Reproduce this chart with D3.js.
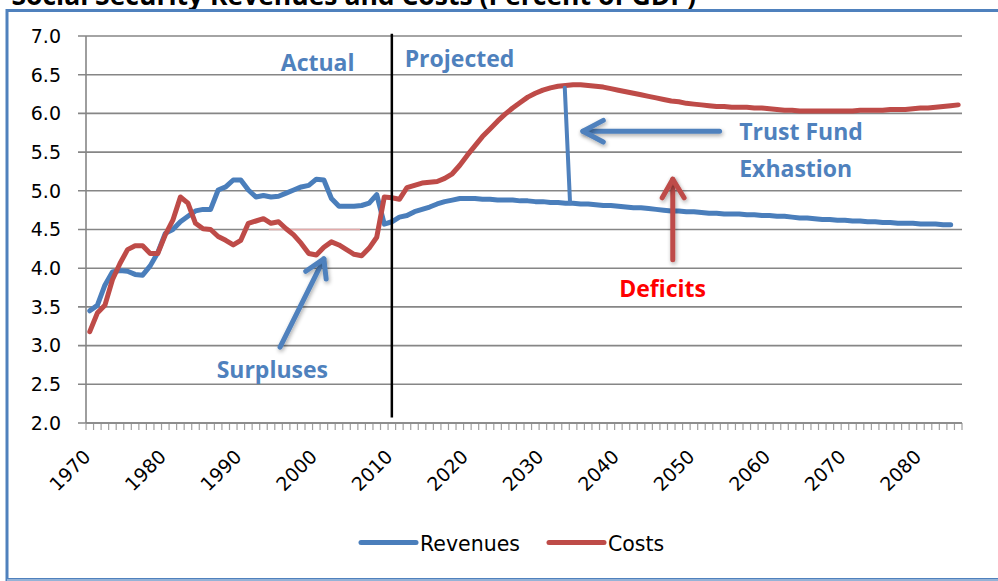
<!DOCTYPE html>
<html>
<head>
<meta charset="utf-8">
<script src="https://cdnjs.cloudflare.com/ajax/libs/d3/7.8.5/d3.min.js"></script>
<style>
  body { margin: 0; background: #fff; }
  svg { display: block; }
</style>
</head>
<body>
<div id="my_dataviz"></div>
<script>

// categories: one per year 1970 - 2085
var years = d3.range(1970, 2086);
var tickYears = [1970, 1980, 1990, 2000, 2010, 2020, 2030, 2040, 2050, 2060, 2070, 2080];
var yTicks = [2.0, 2.5, 3.0, 3.5, 4.0, 4.5, 5.0, 5.5, 6.0, 6.5, 7.0];

// Revenues, percent of GDP (1970 - 2084)
var revenues = [
  3.45, 3.52, 3.78, 3.95, 3.97, 3.96, 3.92, 3.91, 4.03, 4.20,
  4.45, 4.50, 4.60, 4.67, 4.74, 4.76, 4.76, 5.01, 5.05, 5.14,
  5.14, 5.01, 4.92, 4.94, 4.92, 4.93, 4.97, 5.01, 5.05, 5.07,
  5.15, 5.14, 4.90, 4.80, 4.80, 4.80, 4.81, 4.84, 4.95, 4.57,
  4.60, 4.66, 4.68, 4.73, 4.76, 4.79, 4.83, 4.86, 4.88, 4.90,
  4.90, 4.90, 4.89, 4.89, 4.88, 4.88, 4.88, 4.87, 4.87, 4.86,
  4.86, 4.85, 4.85, 4.84, 4.84, 4.83, 4.83, 4.82, 4.81, 4.81,
  4.80, 4.79, 4.78, 4.78, 4.77, 4.76, 4.75, 4.74, 4.74, 4.73,
  4.73, 4.72, 4.71, 4.71, 4.70, 4.70, 4.70, 4.69, 4.69, 4.68,
  4.68, 4.67, 4.67, 4.66, 4.65, 4.65, 4.64, 4.63, 4.63, 4.62,
  4.62, 4.61, 4.61, 4.60, 4.60, 4.59, 4.59, 4.58, 4.58, 4.58,
  4.57, 4.57, 4.57, 4.56, 4.56
];

// Costs, percent of GDP (1970 - 2085)
var costs = [
  3.18, 3.42, 3.52, 3.85, 4.06, 4.24, 4.29, 4.29, 4.19, 4.19,
  4.43, 4.62, 4.92, 4.84, 4.58, 4.51, 4.50, 4.41, 4.36, 4.30,
  4.36, 4.58, 4.61, 4.64, 4.58, 4.60, 4.51, 4.43, 4.32, 4.19,
  4.17, 4.27, 4.34, 4.30, 4.24, 4.18, 4.16, 4.26, 4.40, 4.92,
  4.91, 4.89, 5.04, 5.07, 5.10, 5.11, 5.12, 5.16, 5.22, 5.33,
  5.46, 5.58, 5.70, 5.80, 5.90, 5.99, 6.07, 6.14, 6.21, 6.26,
  6.30, 6.33, 6.35, 6.36, 6.37, 6.37, 6.36, 6.35, 6.34, 6.32,
  6.30, 6.28, 6.26, 6.24, 6.22, 6.20, 6.18, 6.16, 6.15, 6.13,
  6.12, 6.11, 6.10, 6.09, 6.09, 6.08, 6.08, 6.08, 6.07, 6.07,
  6.06, 6.05, 6.04, 6.04, 6.03, 6.03, 6.03, 6.03, 6.03, 6.03,
  6.03, 6.03, 6.04, 6.04, 6.04, 6.04, 6.05, 6.05, 6.05, 6.06,
  6.07, 6.07, 6.08, 6.09, 6.10, 6.11
];

var seriesNames = ["Revenues", "Costs"];
var blue = "#4a7ebb", red = "#be4b48", annBlue = "#4f81bd";

// overall size and plot box
var W = 998, H = 581;
var plot = {left: 86, right: 962, top: 36, bottom: 423};

var svg = d3.select("#my_dataviz")
  .append("svg")
    .attr("width", W)
    .attr("height", H);

// soft shadow for the drawn arrows (user space so straight lines keep it)
var defs = svg.append("defs");
var f = defs.append("filter").attr("id", "shadow")
  .attr("filterUnits", "userSpaceOnUse")
  .attr("x", 0).attr("y", 0).attr("width", W).attr("height", H);
f.append("feGaussianBlur").attr("in", "SourceAlpha").attr("stdDeviation", 2);
f.append("feOffset").attr("dx", 1).attr("dy", 2).attr("result", "off");
f.append("feComponentTransfer").attr("result", "blur")
  .append("feFuncA").attr("type", "linear").attr("slope", 0.35);
var fm = f.append("feMerge");
fm.append("feMergeNode").attr("in", "blur");
fm.append("feMergeNode").attr("in", "SourceGraphic");

// title, mostly cut off by the top of the picture
svg.append("text")
  .attr("x", -4)
  .attr("y", 5)
  .style("font-family", "Open Sans")
  .style("font-weight", "bold")
  .style("font-size", "26.5px")
  .text("- Social Security Revenues and Costs (Percent of GDP)");

// frame round the chart
svg.append("rect")
  .attr("x", 7).attr("y", 10.5)
  .attr("width", W + 10).attr("height", 569)
  .attr("fill", "none")
  .attr("stroke", "#4f81bd")
  .attr("stroke-width", 3);
svg.append("line")
  .attr("x1", 7).attr("x2", W).attr("y1", 580).attr("y2", 580)
  .attr("stroke", "#95b3d7").attr("stroke-width", 2);

// scales
var x = d3.scalePoint()
  .domain(years)
  .range([plot.left, plot.right])
  .padding(0.5);
var step = x.step();
// continuous year scale for the annotations
var xc = d3.scaleLinear()
  .domain([1970, 2085])
  .range([x(1970), x(2085)]);
var y = d3.scaleLinear()
  .domain([2, 7])
  .range([plot.bottom, plot.top]);

// horizontal gridlines with small outside ticks
svg.append("g")
  .selectAll("line")
  .data(yTicks)
  .enter()
  .append("line")
    .attr("x1", plot.left - 8)
    .attr("x2", plot.right)
    .attr("y1", d => y(d))
    .attr("y2", d => y(d))
    .attr("stroke", "#868686")
    .attr("stroke-width", 1.6);

// y axis line
svg.append("line")
  .attr("x1", plot.left).attr("x2", plot.left)
  .attr("y1", plot.top).attr("y2", plot.bottom)
  .attr("stroke", "#868686").attr("stroke-width", 1.6);

// y tick labels
svg.append("g")
  .selectAll("text")
  .data(yTicks)
  .enter()
  .append("text")
    .attr("x", plot.left - 25)
    .attr("y", d => y(d))
    .attr("dy", "0.36em")
    .attr("text-anchor", "end")
    .style("font-family", "DejaVu Sans")
    .style("font-size", "19px")
    .attr("fill", "#000")
    .text(d => d.toFixed(1));

// x tick marks between categories
var bounds = years.map(d => x(d) - step / 2).concat([x(2085) + step / 2]);
svg.append("g")
  .selectAll("line")
  .data(bounds)
  .enter()
  .append("line")
    .attr("x1", d => d).attr("x2", d => d)
    .attr("y1", plot.bottom).attr("y2", plot.bottom + 7)
    .attr("stroke", "#a0a0a0")
    .attr("stroke-width", 1.2);

// x axis line
svg.append("line")
  .attr("x1", plot.left).attr("x2", plot.right)
  .attr("y1", plot.bottom).attr("y2", plot.bottom)
  .attr("stroke", "#868686").attr("stroke-width", 1.6);

// rotated year labels
svg.append("g")
  .selectAll("text")
  .data(tickYears)
  .enter()
  .append("text")
    .attr("transform", d => "translate(" + (x(d) + 2) + "," + (plot.bottom + 35) + ") rotate(-45)")
    .attr("text-anchor", "end")
    .style("font-family", "DejaVu Sans")
    .style("font-size", "19px")
    .text(d => d);

// faint line left over at 4.5
svg.append("line")
  .attr("x1", xc(1993.7)).attr("x2", xc(2005.8))
  .attr("y1", y(4.5)).attr("y2", y(4.5))
  .attr("stroke", "#e3aaaa").attr("stroke-width", 1.6);

// the two series
var line = d3.line()
  .x((d, i) => x(years[i]))
  .y(d => y(d));

svg.append("path")
  .datum(revenues)
  .attr("fill", "none")
  .attr("stroke", blue)
  .attr("stroke-width", 5)
  .attr("stroke-linejoin", "round")
  .attr("stroke-linecap", "round")
  .attr("d", line);

svg.append("path")
  .datum(costs)
  .attr("fill", "none")
  .attr("stroke", red)
  .attr("stroke-width", 5)
  .attr("stroke-linejoin", "round")
  .attr("stroke-linecap", "round")
  .attr("d", line);

// actual / projected divider
svg.append("line")
  .attr("x1", x(2010)).attr("x2", x(2010))
  .attr("y1", y(7.03)).attr("y2", y(2.07))
  .attr("stroke", "#000").attr("stroke-width", 2.5);

// annotation helper: polyline through [year, value] points
function drawArrow(pts, color, width, shadow) {
  var p = svg.append("path")
    .attr("d", d3.line().x(d => xc(d[0])).y(d => y(d[1]))(pts))
    .attr("fill", "none")
    .attr("stroke", color)
    .attr("stroke-width", width)
    .attr("stroke-linecap", "round")
    .attr("stroke-linejoin", "round");
  if (shadow) p.attr("filter", "url(#shadow)");
  return p;
}

// trust fund exhaustion marker
drawArrow([[2032.9, 6.33], [2033.6, 4.84]], annBlue, 4, false);
drawArrow([[2053.4, 5.77], [2035.3, 5.77]], annBlue, 5, true);
drawArrow([[2038.0, 5.91], [2035.3, 5.77], [2038.0, 5.63]], annBlue, 5, true);

// deficits arrow
drawArrow([[2047.2, 4.11], [2047.2, 5.15]], red, 5, true);
drawArrow([[2045.8, 4.91], [2047.2, 5.15], [2048.7, 4.91]], red, 5, true);

// surpluses arrow
drawArrow([[1995.2, 2.98], [2001.0, 4.12]], annBlue, 5, true);
drawArrow([[1998.6, 3.96], [2001.0, 4.12], [2001.3, 3.86]], annBlue, 5, true);

// annotation texts, placed by [year, value] of the text baseline start
var notes = [
  {t: "Actual", yr: 1995.3, v: 6.554, c: annBlue},
  {t: "Projected", yr: 2011.7, v: 6.596, c: annBlue},
  {t: "Trust Fund", yr: 2056.0, v: 5.656, c: annBlue},
  {t: "Exhastion", yr: 2056.0, v: 5.18, c: annBlue},
  {t: "Deficits", yr: 2040.1, v: 3.624, c: "#ff0000"},
  {t: "Surpluses", yr: 1986.8, v: 2.585, c: annBlue}
];
svg.append("g")
  .selectAll("text")
  .data(notes)
  .enter()
  .append("text")
    .attr("x", d => xc(d.yr))
    .attr("y", d => y(d.v))
    .style("font-family", "Open Sans")
    .style("font-weight", "bold")
    .style("font-size", "23px")
    .attr("fill", d => d.c)
    .text(d => d.t);

// legend
var legend = svg.append("g");
var legendItems = [
  {name: seriesNames[0], color: blue, x0: 361},
  {name: seriesNames[1], color: red, x0: 549}
];
legendItems.forEach(function(d) {
  legend.append("line")
    .attr("x1", d.x0).attr("x2", d.x0 + 55)
    .attr("y1", 542.5).attr("y2", 542.5)
    .attr("stroke", d.color)
    .attr("stroke-width", 5)
    .attr("stroke-linecap", "round");
  legend.append("text")
    .attr("x", d.x0 + 59)
    .attr("y", 550.5)
    .style("font-family", "DejaVu Sans")
    .style("font-size", "20.5px")
    .text(d.name);
});

</script>
</body>
</html>
